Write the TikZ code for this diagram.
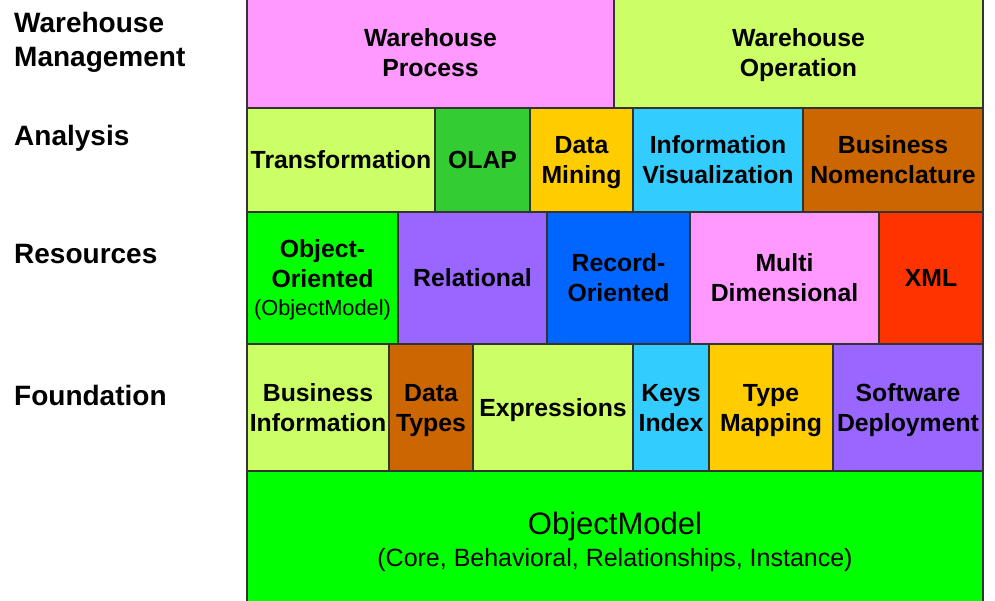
\documentclass[tikz,border=0pt]{standalone}
\usepackage{fontspec}
\setmainfont{Liberation Sans}
\definecolor{cPink}{HTML}{FF99FF}
\definecolor{cLime}{HTML}{CCFF66}
\definecolor{cGreen}{HTML}{33CC33}
\definecolor{cGold}{HTML}{FFCC00}
\definecolor{cSky}{HTML}{33CCFF}
\definecolor{cBrown}{HTML}{CC6600}
\definecolor{cBright}{HTML}{00FF00}
\definecolor{cViolet}{HTML}{9966FF}
\definecolor{cBlue}{HTML}{0066FF}
\definecolor{cRed}{HTML}{FF3300}
\newcommand{\cellfont}{\fontsize{24.8}{30}\selectfont\bfseries}
\newcommand{\sidefont}{\fontsize{28}{34}\selectfont\bfseries}
\tikzset{
  cell/.style={draw=black!80, line width=1.2pt, align=center, inner sep=0pt,
    outer sep=0pt, anchor=north west, font=\cellfont, text=black, text depth=0pt},
  side/.style={anchor=base west, inner sep=0pt, font=\sidefont, text=black, align=left}
}
\begin{document}
\begin{tikzpicture}[x=1pt,y=-1pt]
\useasboundingbox (0,0) rectangle (995,601);
\clip (0,0) rectangle (995,601);
\fill[white] (0,0) rectangle (995,601);
% left labels
\node[side, anchor=north west, text depth=0pt] (lwm) at (14,12) {Warehouse\\Management};
\node[side] (lan) at (14,145.7) {Analysis};
\node[side] (lre) at (14,264) {Resources};
\node[side] (lfo) at (14,405.7) {Foundation};
% row 1
\node[cell, fill=cPink, minimum width=367pt, minimum height=110pt] (wp) at (247,-2) {Warehouse\\Process};
\node[cell, fill=cLime, minimum width=369pt, minimum height=110pt] (wo) at (614,-2) {Warehouse\\Operation};
% row 2
\node[cell, fill=cLime, minimum width=188pt, minimum height=104pt] (tr) at (247,108) {Transformation};
\node[cell, fill=cGreen, minimum width=95pt, minimum height=104pt] (olap) at (435,108) {OLAP};
\node[cell, fill=cGold, minimum width=103pt, minimum height=104pt] (dm) at (530,108) {Data\\Mining};
\node[cell, fill=cSky, minimum width=170pt, minimum height=104pt] (iv) at (633,108) {Information\\Visualization};
\node[cell, fill=cBrown, minimum width=180pt, minimum height=104pt] (bn) at (803,108) {Business\\Nomenclature};
% row 3
\node[cell, fill=cBright, minimum width=151pt, minimum height=132pt] (oo) at (247,212) {Object-\\Oriented\\[-2pt]{\fontsize{21.8}{26}\selectfont\mdseries (ObjectModel)}};
\node[cell, fill=cViolet, minimum width=149pt, minimum height=132pt] (rel) at (398,212) {Relational};
\node[cell, fill=cBlue, minimum width=143pt, minimum height=132pt] (ro) at (547,212) {Record-\\Oriented};
\node[cell, fill=cPink, minimum width=189pt, minimum height=132pt] (md) at (690,212) {Multi\\Dimensional};
\node[cell, fill=cRed, minimum width=104pt, minimum height=132pt] (xml) at (879,212) {XML};
% row 4
\node[cell, fill=cLime, minimum width=142pt, minimum height=127pt] (bi) at (247,344) {Business\\Information};
\node[cell, fill=cBrown, minimum width=84pt, minimum height=127pt] (dt) at (389,344) {Data\\Types};
\node[cell, fill=cLime, minimum width=160pt, minimum height=127pt] (ex) at (473,344) {Expressions};
\node[cell, fill=cSky, minimum width=76pt, minimum height=127pt] (ki) at (633,344) {Keys\\Index};
\node[cell, fill=cGold, minimum width=124pt, minimum height=127pt] (tm) at (709,344) {Type\\Mapping};
\node[cell, fill=cViolet, minimum width=150pt, minimum height=127pt] (sd) at (833,344) {Software\\Deployment};
% row 5
\node[cell, fill=cBright, minimum width=736pt, minimum height=137pt, font=\fontsize{25}{32}\selectfont\mdseries] (om) at (247,471) {{\fontsize{31}{32}\selectfont ObjectModel}\\(Core, Behavioral, Relationships, Instance)};
\end{tikzpicture}
\end{document}
